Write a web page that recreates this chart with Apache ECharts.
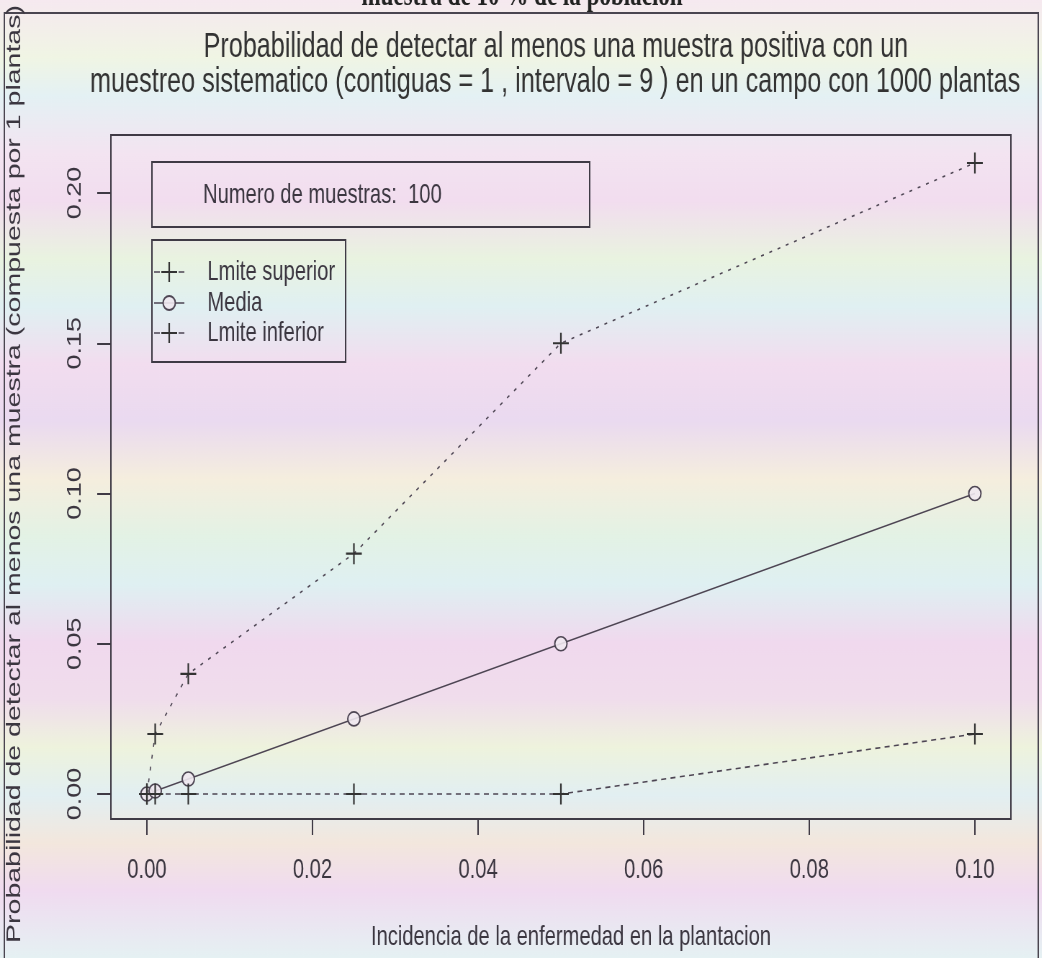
<!DOCTYPE html>
<html>
<head>
<meta charset="utf-8">
<script src="https://cdn.jsdelivr.net/npm/echarts@6/dist/echarts.min.js"></script>
<style>
  html, body { margin: 0; padding: 0; background: #fff; overflow: hidden; }
  /* the plot is laid out on a wider canvas and squeezed horizontally */
  #chart { width: 1447px; height: 958px; transform: scaleX(0.72); transform-origin: 0 0; }
</style>
</head>
<body>
<div id="chart"></div>
<script>
// Incidence levels (x) and the three probability curves
const incidencia = [0, 0.001, 0.005, 0.025, 0.05, 0.1];
const limiteSuperior = [0, 0.02, 0.04, 0.08, 0.15, 0.21];
const media = [0, 0.001, 0.005, 0.025, 0.05, 0.1];
const limiteInferior = [0, 0, 0, 0, 0, 0.02];

// Tick positions
const xTicks = [0, 0.02, 0.04, 0.06, 0.08, 0.10];
const yTicks = [0, 0.05, 0.10, 0.15, 0.20];

// Texts
const seriesNames = ['Lmite superior', 'Media', 'Lmite inferior'];
const titleLines = [
  'Probabilidad de detectar al menos una muestra positiva con un',
  'muestreo sistematico (contiguas = 1 , intervalo = 9 ) en un campo con 1000 plantas'
];
const xTitle = 'Incidencia de la enfermedad en la plantacion';
const yTitle = 'Probabilidad de detectar al menos una muestra (compuesta por 1 plantas)';
const topCaption = 'muestra de 10 % de la poblacion';
const numeroMuestras = 100;

const FONT = "'Liberation Sans', Arial, sans-serif";
const INK = '#3b3640';
const LINE = '#4d4553';
const FRAME = '#3f3a45';

const plusPath = 'path://M-1,-10H1V-1H10V1H1V10H-1V1H-10V-1H-1Z';
const ringPath = 'path://M0,-10A10,10 0 1 1 0,10A10,10 0 1 1 0,-10Z';

const pairs = ys => incidencia.map((x, i) => [x, ys[i]]);

const chart = echarts.init(document.getElementById('chart'), null, { renderer: 'canvas' });

// Legend sample: dash + marker + dash, then the label
function legendEntry(y, kind, label) {
  const cx = 235;
  const els = [];
  if (kind === 'plus') {
    els.push({ type: 'line', shape: { x1: 214, y1: y, x2: 222, y2: y }, style: { stroke: LINE, lineWidth: 1.5 } });
    els.push({ type: 'line', shape: { x1: 248, y1: y, x2: 256, y2: y }, style: { stroke: LINE, lineWidth: 1.5 } });
    els.push({ type: 'line', shape: { x1: cx - 11, y1: y, x2: cx + 11, y2: y }, style: { stroke: '#333', lineWidth: 2 } });
    els.push({ type: 'line', shape: { x1: cx, y1: y - 10, x2: cx, y2: y + 10 }, style: { stroke: '#333', lineWidth: 2.2 } });
  } else {
    els.push({ type: 'line', shape: { x1: 214, y1: y, x2: 256, y2: y }, style: { stroke: LINE, lineWidth: 1.5 } });
    els.push({ type: 'ellipse', shape: { cx: cx, cy: y, rx: 8.5, ry: 7 }, style: { stroke: LINE, lineWidth: 2, fill: 'rgba(240,232,240,0.9)' } });
  }
  els.push({ type: 'text', x: 288, y: y, style: { text: label, font: '28px ' + FONT, fill: INK, textVerticalAlign: 'middle', textAlign: 'left' } });
  return els;
}

const option = {
  backgroundColor: new echarts.graphic.LinearGradient(0, 0, 0, 1, [
    { offset: 0.00, color: '#f6e9f0' },
    { offset: 0.06, color: '#f0f5e4' },
    { offset: 0.10, color: '#e4f1f4' },
    { offset: 0.16, color: '#f3e4f1' },
    { offset: 0.21, color: '#f2ddef' },
    { offset: 0.27, color: '#e9f3e0' },
    { offset: 0.32, color: '#e0f0f2' },
    { offset: 0.38, color: '#f2ddef' },
    { offset: 0.44, color: '#eadaf0' },
    { offset: 0.50, color: '#f5eede' },
    { offset: 0.56, color: '#e3f2e5' },
    { offset: 0.61, color: '#dff0f2' },
    { offset: 0.67, color: '#f0d9ee' },
    { offset: 0.73, color: '#f0ddec' },
    { offset: 0.78, color: '#eef3dd' },
    { offset: 0.83, color: '#e2eff2' },
    { offset: 0.88, color: '#f3e7dd' },
    { offset: 0.93, color: '#f0dbf0' },
    { offset: 1.00, color: '#e5f1f3' }
  ]),
  animation: false,
  grid: {
    left: 154, right: 43, top: 135, bottom: 139,
    show: true, borderColor: FRAME, borderWidth: 2, backgroundColor: 'transparent'
  },
  xAxis: {
    type: 'value',
    min: -0.00435, max: 0.10435,
    axisLine: { show: false, onZero: false },
    splitLine: { show: false },
    axisTick: { show: true, length: 16, customValues: xTicks, lineStyle: { color: FRAME, width: 2 } },
    axisLabel: {
      customValues: xTicks,
      formatter: v => v.toFixed(2),
      fontFamily: FONT, fontSize: 28, color: INK, margin: 37
    }
  },
  yAxis: {
    type: 'value',
    min: -0.0083, max: 0.2193,
    axisLine: { show: false, onZero: false },
    splitLine: { show: false },
    axisTick: { show: true, length: 19, customValues: yTicks, lineStyle: { color: FRAME, width: 2 } },
    axisLabel: {
      customValues: yTicks,
      rotate: 90,
      formatter: v => v.toFixed(2),
      fontFamily: FONT, fontSize: 27, color: INK, margin: 36
    }
  },
  series: [
    {
      name: seriesNames[0], type: 'line', data: pairs(limiteSuperior),
      symbol: plusPath, symbolSize: [22, 21],
      itemStyle: { color: '#333' },
      lineStyle: { color: LINE, width: 1.6, type: [4, 8] },
      z: 3
    },
    {
      name: seriesNames[1], type: 'line', data: pairs(media),
      symbol: ringPath, symbolSize: [17, 14],
      itemStyle: { color: 'rgba(240,232,240,0.9)', borderColor: LINE, borderWidth: 1.8 },
      lineStyle: { color: LINE, width: 1.6 },
      z: 2
    },
    {
      name: seriesNames[2], type: 'line', data: pairs(limiteInferior),
      symbol: plusPath, symbolSize: [22, 21],
      itemStyle: { color: '#333' },
      lineStyle: { color: LINE, width: 1.6, type: [7, 6] },
      z: 3
    }
  ],
  graphic: [
    // outer frame
    { type: 'rect', shape: { x: 6, y: 13, width: 1436, height: 960 }, style: { stroke: '#4a4550', lineWidth: 2, fill: 'transparent' }, silent: true },
    // caption line above the frame, partly cut off
    { type: 'text', x: 725, y: 13, style: { text: topCaption, font: 'bold 32px "Liberation Serif", serif', fill: '#222', textAlign: 'center', textVerticalAlign: 'bottom' } },
    // title
    { type: 'text', x: 772, y: 47, style: { text: titleLines[0], font: '35px ' + FONT, fill: '#333', textAlign: 'center', textVerticalAlign: 'middle' } },
    { type: 'text', x: 771, y: 82, style: { text: titleLines[1], font: '35px ' + FONT, fill: '#333', textAlign: 'center', textVerticalAlign: 'middle' } },
    // axis titles
    { type: 'text', x: 793, y: 937, style: { text: xTitle, font: '28px ' + FONT, fill: INK, textAlign: 'center', textVerticalAlign: 'middle' } },
    { type: 'text', x: 20, y: 474, rotation: Math.PI / 2, style: { text: yTitle, font: '28.5px ' + FONT, fill: INK, textAlign: 'center', textVerticalAlign: 'middle' } },
    // sample size box
    { type: 'rect', shape: { x: 211, y: 162, width: 608, height: 65 }, style: { stroke: FRAME, lineWidth: 2, fill: 'transparent' } },
    { type: 'text', x: 282, y: 195, style: { text: 'Numero de muestras:  ' + numeroMuestras, font: '28px ' + FONT, fill: INK, textAlign: 'left', textVerticalAlign: 'middle' } },
    // legend box
    { type: 'rect', shape: { x: 211, y: 240, width: 269, height: 122 }, style: { stroke: FRAME, lineWidth: 2, fill: 'transparent' } },
    ...legendEntry(272, 'plus', seriesNames[0]),
    ...legendEntry(303, 'ring', seriesNames[1]),
    ...legendEntry(333, 'plus', seriesNames[2])
  ]
};

chart.setOption(option);
</script>
</body>
</html>
